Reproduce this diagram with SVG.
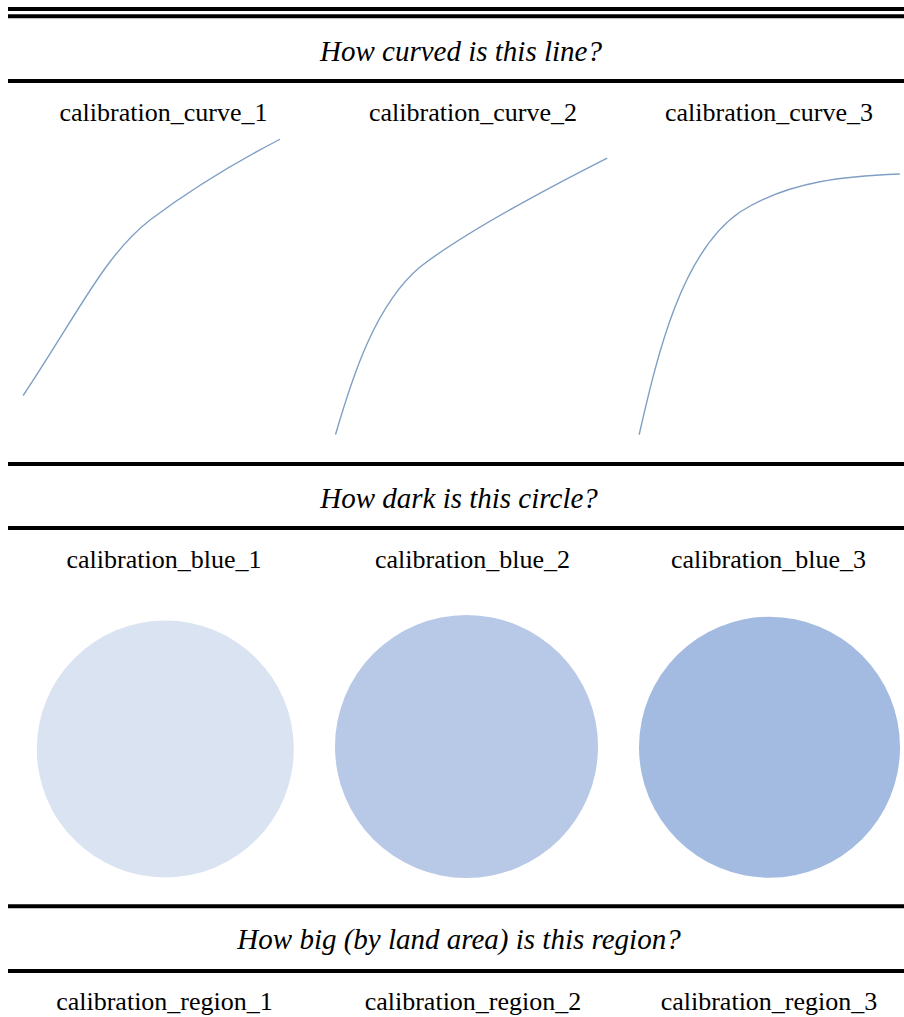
<svg xmlns="http://www.w3.org/2000/svg" width="904" height="1017" viewBox="0 0 904 1017">
<style>
.rule{stroke:#000;stroke-width:4;fill:none}
.title{font-family:"Liberation Serif","Times New Roman",serif;font-style:italic;font-size:29px;fill:#000;text-anchor:middle}
.label{font-family:"Liberation Serif","Times New Roman",serif;font-size:26px;fill:#000;text-anchor:middle}
.curve{fill:none;stroke:#7f9fc4;stroke-width:1.4;stroke-linecap:round}
</style>
<rect width="904" height="1017" fill="#fff"/>
<g id="rules">
<line class="rule" x1="8" y1="9" x2="904" y2="9" stroke-width="3.5"/>
<line class="rule" x1="8" y1="16.3" x2="904" y2="16.3" stroke-width="3.5"/>
<line class="rule" x1="8" y1="81" x2="904" y2="81"/>
<line class="rule" x1="8" y1="464" x2="904" y2="464"/>
<line class="rule" x1="8" y1="528" x2="904" y2="528"/>
<line class="rule" x1="8" y1="906.3" x2="904" y2="906.3"/>
<line class="rule" x1="8" y1="971" x2="904" y2="971"/>
</g>
<g id="titles">
<text class="title" x="461" y="61">How curved is this line?</text>
<text class="title" x="459" y="508">How dark is this circle?</text>
<text class="title" x="459" y="949">How big (by land area) is this region?</text>
</g>
<g id="curve1">
<text class="label" x="163.5" y="121">calibration_curve_1</text>
<path class="curve" d="M23.5,395 C80,310 105,255 150,220 C190,190 240,160 279.5,139.5"/>
</g>
<g id="curve2">
<text class="label" x="473" y="121">calibration_curve_2</text>
<path class="curve" d="M335.7,434 C352,378 375,305 420,267 C470,228 560,182 606.7,158.3"/>
</g>
<g id="curve3">
<text class="label" x="769" y="121">calibration_curve_3</text>
<path class="curve" d="M639.3,434 C658,352 682,252 740,212 C790,180 850,176 899.3,174"/>
</g>
<g id="blue1">
<text class="label" x="164" y="568">calibration_blue_1</text>
<circle cx="165.3" cy="749" r="128.5" fill="#dae3f1"/>
</g>
<g id="blue2">
<text class="label" x="472.5" y="568">calibration_blue_2</text>
<circle cx="466.5" cy="746.5" r="131.5" fill="#b8c8e7"/>
</g>
<g id="blue3">
<text class="label" x="768.5" y="568">calibration_blue_3</text>
<circle cx="769.5" cy="747.2" r="130.5" fill="#a3bae1"/>
</g>
<g id="region1">
<text class="label" x="164.5" y="1010">calibration_region_1</text>
</g>
<g id="region2">
<text class="label" x="473" y="1010">calibration_region_2</text>
</g>
<g id="region3">
<text class="label" x="769" y="1010">calibration_region_3</text>
</g>
</svg>
